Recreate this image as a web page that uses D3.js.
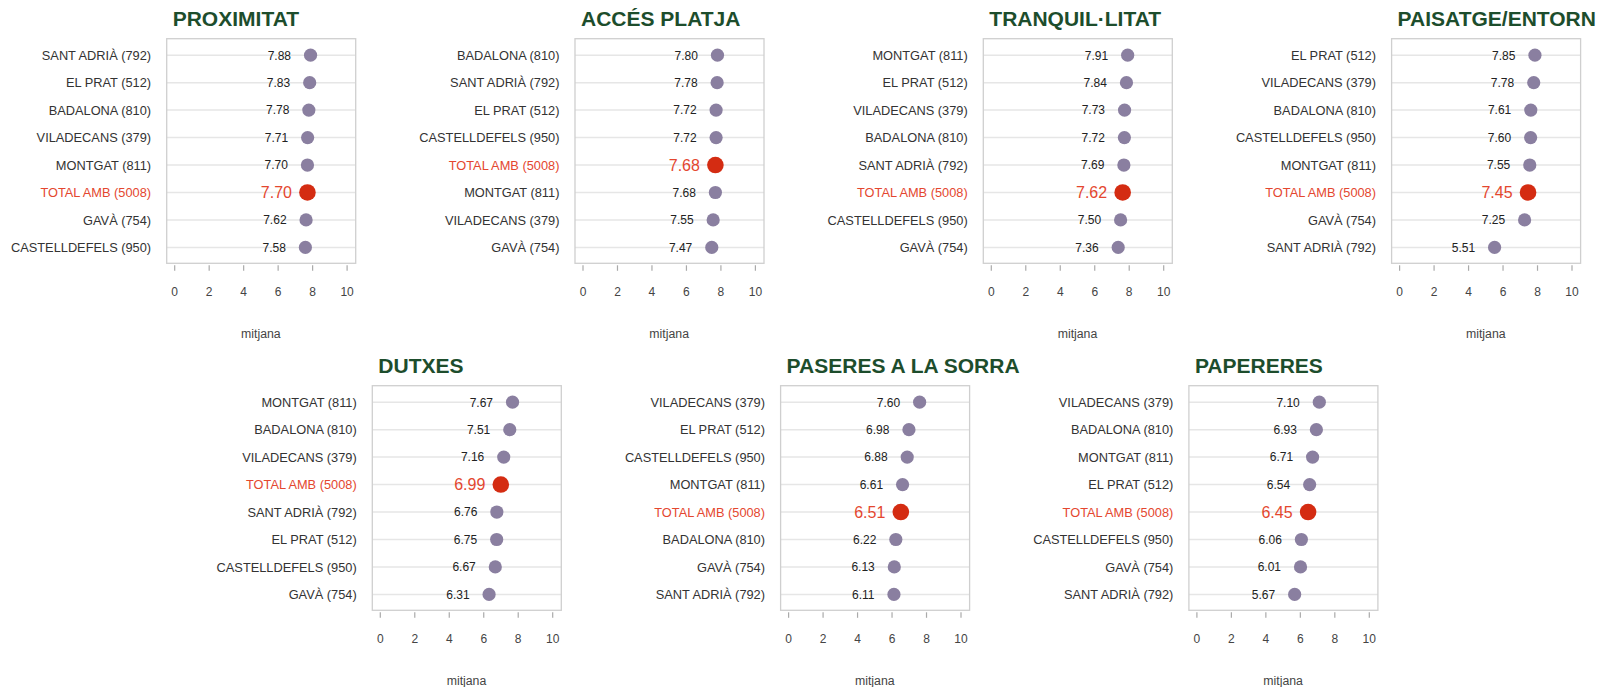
<!DOCTYPE html>
<html>
<head>
<meta charset="utf-8">
<script src="https://cdn.jsdelivr.net/npm/d3@7"></script>
<style>
  body { margin: 0; background: #fff; }
  svg { display: block; font-family: "Liberation Sans", Arial, sans-serif; }
</style>
</head>
<body>
<svg id="chart"></svg>
<script>
// titols de cada panell
var titols = ["PROXIMITAT", "ACCÉS PLATJA", "TRANQUIL·LITAT", "PAISATGE/ENTORN",
              "DUTXES", "PASERES A LA SORRA", "PAPERERES"];

var cats1 = ["SANT ADRIÀ (792)", "EL PRAT (512)", "BADALONA (810)", "VILADECANS (379)", "MONTGAT (811)", "TOTAL AMB (5008)", "GAVÀ (754)", "CASTELLDEFELS (950)"];
var vals1 = [7.88, 7.83, 7.78, 7.71, 7.70, 7.70, 7.62, 7.58];

var cats2 = ["BADALONA (810)", "SANT ADRIÀ (792)", "EL PRAT (512)", "CASTELLDEFELS (950)", "TOTAL AMB (5008)", "MONTGAT (811)", "VILADECANS (379)", "GAVÀ (754)"];
var vals2 = [7.80, 7.78, 7.72, 7.72, 7.68, 7.68, 7.55, 7.47];

var cats3 = ["MONTGAT (811)", "EL PRAT (512)", "VILADECANS (379)", "BADALONA (810)", "SANT ADRIÀ (792)", "TOTAL AMB (5008)", "CASTELLDEFELS (950)", "GAVÀ (754)"];
var vals3 = [7.91, 7.84, 7.73, 7.72, 7.69, 7.62, 7.50, 7.36];

var cats4 = ["EL PRAT (512)", "VILADECANS (379)", "BADALONA (810)", "CASTELLDEFELS (950)", "MONTGAT (811)", "TOTAL AMB (5008)", "GAVÀ (754)", "SANT ADRIÀ (792)"];
var vals4 = [7.85, 7.78, 7.61, 7.60, 7.55, 7.45, 7.25, 5.51];

var cats5 = ["MONTGAT (811)", "BADALONA (810)", "VILADECANS (379)", "TOTAL AMB (5008)", "SANT ADRIÀ (792)", "EL PRAT (512)", "CASTELLDEFELS (950)", "GAVÀ (754)"];
var vals5 = [7.67, 7.51, 7.16, 6.99, 6.76, 6.75, 6.67, 6.31];

var cats6 = ["VILADECANS (379)", "EL PRAT (512)", "CASTELLDEFELS (950)", "MONTGAT (811)", "TOTAL AMB (5008)", "BADALONA (810)", "GAVÀ (754)", "SANT ADRIÀ (792)"];
var vals6 = [7.60, 6.98, 6.88, 6.61, 6.51, 6.22, 6.13, 6.11];

var cats7 = ["VILADECANS (379)", "BADALONA (810)", "MONTGAT (811)", "EL PRAT (512)", "TOTAL AMB (5008)", "CASTELLDEFELS (950)", "GAVÀ (754)", "SANT ADRIÀ (792)"];
var vals7 = [7.10, 6.93, 6.71, 6.54, 6.45, 6.06, 6.01, 5.67];

var xTicks = [0, 2, 4, 6, 8, 10];

var allCats = [cats1, cats2, cats3, cats4, cats5, cats6, cats7];
var allVals = [vals1, vals2, vals3, vals4, vals5, vals6, vals7];

var W = 1601, H = 687;
var svg = d3.select("#chart").attr("width", W).attr("height", H);

// panel geometry
var boxW = 189, boxH = 224.6, step = 408.3;
var origins = [];
for (var i = 0; i < 4; i++) origins.push({ x: 166.7 + i * step, y: 38.7 });
for (var i = 0; i < 3; i++) origins.push({ x: 372.3 + i * step, y: 385.7 });

var purple = "#8a7fa0", red = "#d42c12", redText = "#e4472f", green = "#1d4d2c";

titols.forEach(function(titol, p) {
  var o = origins[p];
  var cats = allCats[p], vals = allVals[p];
  var g = svg.append("g").attr("transform", "translate(" + o.x + "," + o.y + ")");

  var x = d3.scaleLinear().domain([0, 10]).range([8, 180.4]);
  var y = d3.scalePoint().domain(cats).range([16.5, 208.7]);

  g.append("text")
    .attr("x", 6).attr("y", -12.7)
    .attr("font-size", 21).attr("font-weight", "bold")
    .attr("fill", green)
    .text(titol);

  // grid lines
  g.selectAll("line.grid").data(cats).enter().append("line")
    .attr("class", "grid")
    .attr("x1", 0).attr("x2", boxW)
    .attr("y1", function(d) { return y(d); })
    .attr("y2", function(d) { return y(d); })
    .attr("stroke", "#e6e6e6").attr("stroke-width", 1.5);

  g.append("rect")
    .attr("x", 0).attr("y", 0).attr("width", boxW).attr("height", boxH)
    .attr("fill", "none").attr("stroke", "#cfcfcf").attr("stroke-width", 1.3);

  // category labels
  g.selectAll("text.cat").data(cats).enter().append("text")
    .attr("class", "cat")
    .attr("x", -15.6)
    .attr("y", function(d) { return y(d); })
    .attr("dy", "0.36em")
    .attr("text-anchor", "end")
    .attr("font-size", 12.8)
    .attr("fill", function(d) { return d.indexOf("TOTAL") == 0 ? redText : "#333"; })
    .text(function(d) { return d; });

  var rows = cats.map(function(c, i) { return { cat: c, v: vals[i], total: c.indexOf("TOTAL") == 0 }; });

  g.selectAll("circle").data(rows).enter().append("circle")
    .attr("cx", function(d) { return x(d.v); })
    .attr("cy", function(d) { return y(d.cat); })
    .attr("r", function(d) { return d.total ? 8.3 : 6.6; })
    .attr("fill", function(d) { return d.total ? red : purple; });

  g.selectAll("text.val").data(rows).enter().append("text")
    .attr("class", "val")
    .attr("x", function(d) { return x(d.v) - (d.total ? 15.5 : 19.5); })
    .attr("y", function(d) { return y(d.cat); })
    .attr("dy", "0.36em")
    .attr("text-anchor", "end")
    .attr("font-size", function(d) { return d.total ? 16 : 12; })
    .attr("fill", function(d) { return d.total ? redText : "#222"; })
    .text(function(d) { return d.v.toFixed(2); });

  // x axis
  var ax = g.append("g").attr("transform", "translate(0," + (boxH + 2) + ")");
  ax.selectAll("line").data(xTicks).enter().append("line")
    .attr("x1", function(d) { return x(d); }).attr("x2", function(d) { return x(d); })
    .attr("y1", 0).attr("y2", 5.5)
    .attr("stroke", "#aaa").attr("stroke-width", 1.2);
  ax.selectAll("text").data(xTicks).enter().append("text")
    .attr("x", function(d) { return x(d); })
    .attr("y", 253.3 - boxH - 2)
    .attr("dy", "0.36em")
    .attr("text-anchor", "middle")
    .attr("font-size", 12)
    .attr("fill", "#444")
    .text(function(d) { return d; });

  g.append("text")
    .attr("x", (x(0) + x(10)) / 2)
    .attr("y", 294.5)
    .attr("dy", "0.36em")
    .attr("text-anchor", "middle")
    .attr("font-size", 12.3)
    .attr("fill", "#444")
    .text("mitjana");
});
</script>
</body>
</html>
